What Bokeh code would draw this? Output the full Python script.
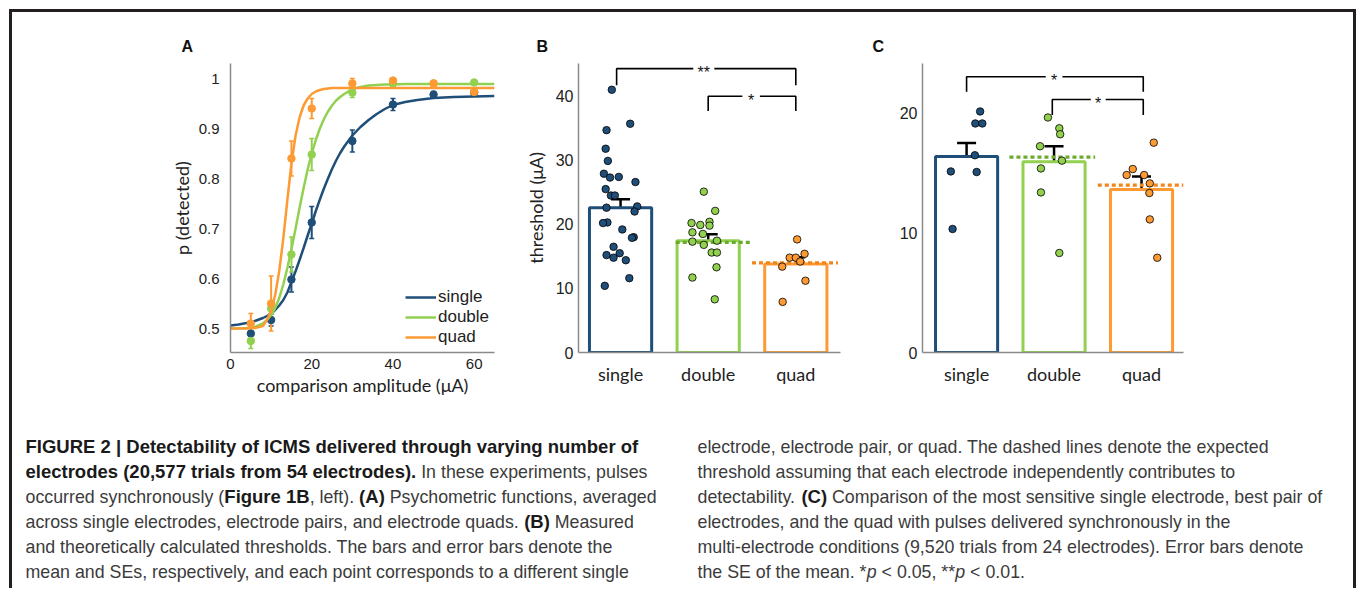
from bokeh.plotting import figure
from bokeh.models import (Range1d, FixedTicker, Whisker, TeeHead, ColumnDataSource,
                          Legend, LegendItem, Spacer)
from bokeh.layouts import row, column
from bokeh.embed import file_html
from bokeh.resources import INLINE
from bokeh.core.properties import value

# ------------------------------------------------------------------ colours
C_SINGLE = "#1f4e79"
C_DOUBLE = "#92d050"
C_QUAD = "#fd9a33"
C_DOUBLE_DOT = "#6aab2c"
C_QUAD_DOT = "#f2861c"
AXIS_GREY = "#8a8a8a"
TXT = "#222222"

# ------------------------------------------------------------------ panel A data
series = ["single", "double", "quad"]
amp = [5, 10, 15, 20, 30, 40, 50, 60]
pA_single = [0.490, 0.517, 0.598, 0.712, 0.875, 0.948, 0.968, 0.972]
pA_single_err = [0.012, 0.012, 0.025, 0.032, 0.022, 0.012, 0.006, 0.006]
pA_double = [0.475, 0.540, 0.648, 0.848, 0.972, 0.990, 0.990, 0.992]
pA_double_err = [0.015, 0.010, 0.035, 0.032, 0.010, 0.004, 0.004, 0.004]
pA_quad = [0.510, 0.550, 0.840, 0.940, 0.990, 0.996, 0.990, 0.973]
pA_quad_err = [0.020, 0.055, 0.035, 0.020, 0.010, 0.004, 0.006, 0.008]

fit_x = [0, 2, 4, 6, 8, 9, 10, 11, 12, 13, 14, 15, 16, 17, 18, 19, 20, 21, 22,
         23, 24, 25, 26, 27, 28, 30, 32, 34, 36, 38, 40, 43, 46, 50, 55, 60, 65]
fit_single = [0.506, 0.508, 0.511, 0.515, 0.521, 0.525, 0.530, 0.537, 0.546, 0.557,
              0.572, 0.593, 0.614, 0.637, 0.661, 0.686, 0.710, 0.735, 0.758, 0.780,
              0.800, 0.819, 0.836, 0.851, 0.864, 0.886, 0.903, 0.917, 0.929, 0.939,
              0.947, 0.953, 0.957, 0.961, 0.963, 0.964, 0.965]
fit_double = [0.500, 0.500, 0.501, 0.503, 0.510, 0.517, 0.527, 0.541, 0.561, 0.588,
              0.621, 0.658, 0.699, 0.741, 0.781, 0.818, 0.850, 0.877, 0.900, 0.919,
              0.934, 0.946, 0.956, 0.963, 0.969, 0.979, 0.983, 0.986, 0.987, 0.988,
              0.988, 0.989, 0.989, 0.989, 0.989, 0.989, 0.989]
fit_quad = [0.500, 0.500, 0.500, 0.501, 0.505, 0.518, 0.535, 0.567, 0.615, 0.680,
            0.757, 0.830, 0.885, 0.922, 0.946, 0.960, 0.969, 0.974, 0.977, 0.979,
            0.980, 0.981, 0.981, 0.981, 0.981, 0.981, 0.981, 0.981, 0.981, 0.981,
            0.981, 0.981, 0.981, 0.981, 0.981, 0.981, 0.981]

# ------------------------------------------------------------------ panel B data
categories = ["single", "double", "quad"]
B_mean = [22.6, 17.45, 13.8]
B_se = [1.3, 1.0, 1.05]
B_expected = [17.2, 14.0]                 # double, quad (dotted lines)
B_expected_from = [1.63, 2.50]
B_expected_to = [2.49, 3.48]
B_single_dx = [-0.10, -0.16, 0.11, -0.17, -0.145, -0.19, -0.12, -0.02, 0.17, -0.17,
               -0.11, -0.065, -0.16, 0.19, 0.16, -0.15, -0.20, 0.02, 0.15, 0.13,
               -0.08, -0.16, -0.01, -0.08, 0.06, 0.10, -0.18]
B_single_y = [41.0, 34.7, 35.7, 31.8, 29.9, 27.9, 27.3, 27.4, 26.6, 25.5,
              24.5, 24.5, 22.6, 22.8, 22.0, 20.3, 20.2, 19.2, 18.0, 17.9,
              16.5, 15.2, 15.5, 14.8, 14.4, 11.6, 10.4]
B_double_dx = [-0.05, 0.08, -0.19, -0.09, 0.015, 0.015, -0.18, -0.06, -0.18, 0.10,
               -0.05, 0.04, 0.10, 0.095, -0.18, 0.075]
B_double_y = [25.1, 22.1, 20.2, 19.9, 20.4, 19.8, 18.75, 18.5, 17.3, 17.45,
              16.8, 15.6, 15.6, 13.3, 11.7, 8.3]
B_quad_dx = [0.015, -0.07, 0.0, 0.10, 0.05, -0.155, 0.11, -0.15]
B_quad_y = [17.65, 14.8, 14.8, 15.4, 14.2, 13.4, 11.2, 7.9]
B_br_left = [0.955, 2.0]
B_br_right = [3.0, 3.0]
B_br_top = [44.3, 40.0]
B_br_bottom = [41.7, 37.7]
B_br_gap_from = [1.83, 2.39]
B_br_gap_to = [2.07, 2.59]
B_br_star = ["**", "*"]

# ------------------------------------------------------------------ panel C data
C_mean = [16.35, 15.9, 13.6]
C_se = [1.13, 1.3, 1.07]
C_expected = [16.3, 13.95]
C_expected_from = [1.49, 2.50]
C_expected_to = [2.47, 3.48]
C_single_dx = [0.155, 0.10, 0.18, 0.095, -0.18, 0.115, -0.16]
C_single_y = [20.1, 19.1, 19.1, 16.45, 15.1, 15.05, 10.3]
C_double_dx = [-0.07, 0.06, 0.07, -0.16, 0.09, -0.15, -0.15, 0.06]
C_double_y = [19.6, 18.7, 18.2, 17.2, 16.0, 15.35, 13.35, 8.3]
C_quad_dx = [0.14, -0.10, -0.17, 0.03, 0.095, 0.09, 0.095, 0.18]
C_quad_y = [17.5, 15.3, 14.8, 14.8, 14.1, 13.3, 11.1, 7.9]
C_br_left = [1.0, 1.98]
C_br_right = [3.02, 3.02]
C_br_top = [23.0, 21.1]
C_br_bottom = [21.75, 19.8]
C_br_gap_from = [1.905, 2.42]
C_br_gap_to = [2.096, 2.59]
C_br_star = ["*", "*"]

# ------------------------------------------------------------------ caption text
CAP_LEFT = [
    [("FIGURE 2 | Detectability of ICMS delivered through varying number of", "b")],
    [("electrodes (20,577 trials from 54 electrodes).", "b"), (" In these experiments, pulses", "n")],
    [("occurred synchronously (", "n"), ("Figure 1B", "b"), (", left). ", "n"), ("(A)", "b"),
     (" Psychometric functions, averaged", "n")],
    [("across single electrodes, electrode pairs, and electrode quads. ", "n"), ("(B)", "b"),
     (" Measured", "n")],
    [("and theoretically calculated thresholds. The bars and error bars denote the", "n")],
    [("mean and SEs, respectively, and each point corresponds to a different single", "n")],
]
CAP_RIGHT = [
    [("electrode, electrode pair, or quad. The dashed lines denote the expected", "n")],
    [("threshold assuming that each electrode independently contributes to", "n")],
    [("detectability. ", "n"), ("(C)", "b"),
     (" Comparison of the most sensitive single electrode, best pair of", "n")],
    [("electrodes, and the quad with pulses delivered synchronously in the", "n")],
    [("multi-electrode conditions (9,520 trials from 24 electrodes). Error bars denote", "n")],
    [("the SE of the mean. *", "n"), ("p", "i"), (" < 0.05, **", "n"), ("p", "i"), (" < 0.01.", "n")],
]

# Arial / Liberation Sans advance widths (per 1000 em) used to abut text runs
_REG = {}
for w, chars in [(278, " ,./:;!ftI[]"), (222, "ijl"), (333, "()r-"), (389, "*"),
                 (500, "cksvxyzJ"), (556, "abdeghnopqu0123456789L?"), (584, "<>=+"),
                 (611, "FTZ"), (667, "ABEKPSVXY"), (722, "CDHNRUw"), (778, "GOQ"),
                 (833, "mM"), (944, "W"), (260, "|")]:
    for ch in chars:
        _REG[ch] = w
_BOLD = {}
for w, chars in [(278, " ,.:;Iijl"), (280, "|"), (333, "()tf-"), (389, "r*"),
                 (556, "acesvxykJ0123456789"), (500, "z"), (611, "bdghnopquFLTZ"),
                 (667, "EPSVXY"), (722, "ABCDHKNRU"), (778, "GOQw"), (833, "M"),
                 (889, "m"), (944, "W")]:
    for ch in chars:
        _BOLD[ch] = w
CAP_SIZE = {"n": 17.8, "i": 17.8, "b": 18.5}


def run_width(s, style):
    table = _BOLD if style == "b" else _REG
    return sum(table.get(ch, 556) for ch in s) * CAP_SIZE[style] / 1000.0


# ------------------------------------------------------------------ helpers
def style_axes(p, tick_size):
    for ax in (p.xaxis[0], p.yaxis[0]):
        ax.axis_line_color = AXIS_GREY
        ax.axis_line_width = 1.5
        ax.major_tick_line_color = None
        ax.minor_tick_line_color = None
        ax.major_tick_in = 0
        ax.major_tick_out = 0
        ax.major_label_text_font = "Liberation Sans"
        ax.major_label_text_font_size = tick_size
        ax.major_label_text_color = TXT
        ax.axis_label_text_font = "Lato"
        ax.axis_label_text_font_size = "18px"
        ax.axis_label_text_font_style = "normal"
        ax.axis_label_text_color = TXT
    p.xgrid.visible = False
    p.ygrid.visible = False
    p.outline_line_color = None
    p.border_fill_color = "white"


def panel_letter(p, letter, offset):
    p.title.text = letter
    p.title.align = "left"
    p.title.offset = offset
    p.title.standoff = 17
    p.title.text_font = "Liberation Sans"
    p.title.text_font_size = "16px"
    p.title.text_font_style = "bold"
    p.title.text_color = "#111111"


TOP_H = 400

# ------------------------------------------------------------------ panel A
pA = figure(width=500, height=TOP_H, x_range=Range1d(0, 65), y_range=Range1d(0.452, 1.03),
            output_backend="svg", toolbar_location=None,
            min_border_left=218, min_border_right=18, min_border_top=51, min_border_bottom=60)
style_axes(pA, "15px")
pA.xaxis.ticker = FixedTicker(ticks=[0, 20, 40, 60])
pA.yaxis.ticker = FixedTicker(ticks=[0.5, 0.6, 0.7, 0.8, 0.9, 1.0])
pA.yaxis.major_label_overrides = {1: "1"}
pA.xaxis.axis_label = "comparison amplitude (μA)"
pA.yaxis.axis_label = "p (detected)"
pA.yaxis.major_label_standoff = 11
pA.xaxis.major_label_standoff = 6
pA.yaxis.axis_label_standoff = 3
pA.xaxis.axis_label_standoff = 2

legend_items = []
for name, col, fit, ys, errs in [("single", C_SINGLE, fit_single, pA_single, pA_single_err),
                                 ("double", C_DOUBLE, fit_double, pA_double, pA_double_err),
                                 ("quad", C_QUAD, fit_quad, pA_quad, pA_quad_err)]:
    r = pA.line(fit_x, fit, line_color=col, line_width=2.5)
    src = ColumnDataSource(dict(x=amp, y=ys,
                                up=[a + b for a, b in zip(ys, errs)],
                                lo=[a - b for a, b in zip(ys, errs)]))
    pA.add_layout(Whisker(source=src, base="x", upper="up", lower="lo",
                          line_color=col, line_width=2,
                          upper_head=TeeHead(size=5, line_color=col, line_width=1.5),
                          lower_head=TeeHead(size=5, line_color=col, line_width=1.5)))
    pA.scatter("x", "y", source=src, size=7.5, fill_color=col, line_color=col)
    legend_items.append(LegendItem(label=name, renderers=[r]))

legA = Legend(items=legend_items, location=(175, 5), background_fill_alpha=0,
              border_line_color=None, padding=0, margin=0, spacing=0,
              glyph_width=31, glyph_height=20, label_height=20, label_standoff=2,
              label_text_font="Liberation Sans", label_text_font_size="17px",
              label_text_color=TXT)
pA.add_layout(legA)
panel_letter(pA, "A", -49)


# ------------------------------------------------------------------ bar panels
def bar_panel(width, border_left, border_right, yr, yticks, means, ses,
              exp_y, exp_from, exp_to, pts, br, letter_off, letter, ylabel=None):
    p = figure(width=width, height=TOP_H, x_range=Range1d(*yr[0]), y_range=Range1d(*yr[1]),
               output_backend="svg", toolbar_location=None,
               min_border_left=border_left, min_border_right=border_right,
               min_border_top=51, min_border_bottom=59)
    style_axes(p, "16px")
    p.xaxis.ticker = FixedTicker(ticks=[1, 2, 3])
    p.xaxis.major_label_overrides = {i + 1: c for i, c in enumerate(categories)}
    p.xaxis.major_label_text_font = "Lato"
    p.xaxis.major_label_text_font_size = "18px"
    p.xaxis.major_label_standoff = 10
    p.yaxis.ticker = FixedTicker(ticks=yticks)
    p.yaxis.major_label_standoff = 5
    if ylabel:
        p.yaxis.axis_label = ylabel
        p.yaxis.axis_label_standoff = 6

    cols = [C_SINGLE, C_DOUBLE, C_QUAD]
    xs = [1, 2, 3]
    p.vbar(x=xs, top=means, width=0.71, bottom=0, fill_color="white",
           line_color=cols, line_width=3)
    # expected-threshold dotted lines
    p.segment(x0=exp_from, y0=exp_y, x1=exp_to, y1=exp_y,
              line_color=[C_DOUBLE_DOT, C_QUAD_DOT], line_width=3.2, line_dash="4 3")
    # individual electrodes
    for k, (dx, ys) in enumerate(pts):
        p.scatter([xs[k] + d for d in dx], ys, size=7.5, fill_color=cols[k],
                  line_color="black", line_width=0.8)
    # SE error bars
    src = ColumnDataSource(dict(x=xs, up=[m + s for m, s in zip(means, ses)],
                                lo=[m - s for m, s in zip(means, ses)]))
    p.add_layout(Whisker(source=src, base="x", upper="up", lower="lo",
                         line_color="black", line_width=2.5,
                         upper_head=TeeHead(size=19, line_color="black", line_width=2.5),
                         lower_head=TeeHead(size=19, line_color="black", line_width=2.5)))
    # significance brackets
    left, right, top, bottom, g0, g1, stars = br
    mx, my = [], []
    for i in range(len(left)):
        mx.append([left[i], left[i], g0[i]])
        my.append([bottom[i], top[i], top[i]])
        mx.append([g1[i], right[i], right[i]])
        my.append([top[i], top[i], bottom[i]])
    p.multi_line(mx, my, line_color="black", line_width=1.6)
    p.text(x=[(a + b) / 2 for a, b in zip(g0, g1)], y=top, text=stars,
           text_font=value("Liberation Sans"), text_font_size=value("16px"),
           text_align="center", text_baseline="middle", text_color="#111111",
           y_offset=4)
    panel_letter(p, letter, letter_off)
    return p


pB = bar_panel(345, 66, 17, [(0.52, 3.51), (0, 45.1)], [0, 10, 20, 30, 40],
               B_mean, B_se, B_expected, B_expected_from, B_expected_to,
               [(B_single_dx, B_single_y), (B_double_dx, B_double_y), (B_quad_dx, B_quad_y)],
               (B_br_left, B_br_right, B_br_top, B_br_bottom, B_br_gap_from, B_br_gap_to, B_br_star),
               -42, "B", ylabel="threshold (μA)")

pC = bar_panel(496, 65, 170, [(0.496, 3.48), (0, 24.1)], [0, 10, 20],
               C_mean, C_se, C_expected, C_expected_from, C_expected_to,
               [(C_single_dx, C_single_y), (C_double_dx, C_double_y), (C_quad_dx, C_quad_y)],
               (C_br_left, C_br_right, C_br_top, C_br_bottom, C_br_gap_from, C_br_gap_to, C_br_star),
               -50, "C")

# ------------------------------------------------------------------ caption
CAP_W, CAP_H = 1341, 176
pCap = figure(width=CAP_W, height=CAP_H, x_range=Range1d(0, CAP_W), y_range=Range1d(CAP_H, 0),
              output_backend="svg", toolbar_location=None, min_border=0)
pCap.axis.visible = False
pCap.xgrid.visible = False
pCap.ygrid.visible = False
pCap.outline_line_color = None

runs = {"n": dict(x=[], y=[], t=[]), "b": dict(x=[], y=[], t=[]), "i": dict(x=[], y=[], t=[])}
for x0, lines in [(13, CAP_LEFT), (685, CAP_RIGHT)]:
    for li, segs in enumerate(lines):
        y = 34 + 25 * li
        x = x0
        for s, st in segs:
            lead = len(s) - len(s.lstrip(" "))
            runs[st]["x"].append(x + run_width(" " * lead, st))
            runs[st]["y"].append(y)
            runs[st]["t"].append(s.strip(" "))
            x += run_width(s, st)

for st, fstyle, col in [("n", "normal", "#3b3b3b"), ("b", "bold", "#1a1a1a"), ("i", "italic", "#3b3b3b")]:
    pCap.text(x=runs[st]["x"], y=runs[st]["y"], text=runs[st]["t"],
              text_font=value("Liberation Sans"), text_font_size=value("%spx" % CAP_SIZE[st]),
              text_font_style=fstyle, text_color=col, text_align="left", text_baseline="middle")

framed = column(row(pA, pB, pC, spacing=0), pCap, spacing=0,
                styles={"border-top": "3px solid #231f20",
                        "border-left": "3px solid #231f20",
                        "border-right": "3px solid #231f20"})
layout = column(Spacer(width=1358, height=9),
                row(Spacer(width=9, height=TOP_H + CAP_H), framed, spacing=0),
                spacing=0)

open("out.html", "w").write(file_html(layout, INLINE))
